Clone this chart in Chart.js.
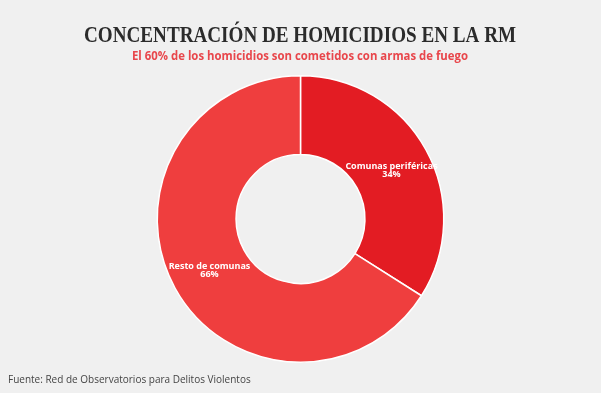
<!DOCTYPE html>
<html>
<head>
<meta charset="utf-8">
<script src="https://cdn.jsdelivr.net/npm/chart.js"></script>
<style>
  html, body { margin: 0; padding: 0; background: #f0f0f0; }
  #wrap { width: 601px; height: 393px; }
</style>
</head>
<body>
<div id="wrap"><canvas id="dona" width="601" height="393"></canvas></div>
<script>
// Datos
var labels = ["Comunas periféricas", "Resto de comunas"];
var data = [34, 66]; // porcentaje de homicidios
var colors = ['#e31c23', '#ef3e3e'];

var title = "CONCENTRACIÓN DE HOMICIDIOS EN LA RM";
var subtitle = "El 60% de los homicidios son cometidos con armas de fuego";
var fuente = "Fuente: Red de Observatorios para Delitos Violentos";

// textos de cabecera y pie
var textos = {
    id: 'textos',
    afterDraw: function(chart) {
        var c = chart.ctx;
        c.save();
        c.textAlign = 'center';
        c.textBaseline = 'alphabetic';
        c.fillStyle = '#2b2b2b';
        c.font = 'bold 23px "Liberation Serif"';
        c.fillText(title, 300, 42, 432); // ajustado al ancho del original
        c.fillStyle = '#e8464b';
        c.font = 'bold 12px "Open Sans"';
        c.fillText(subtitle, 300, 60, 336);
        c.textAlign = 'left';
        c.fillStyle = '#444';
        c.font = '10px "Open Sans"';
        c.fillText(fuente, 8, 383);
        c.restore();
    }
};

// etiquetas dentro de cada sector
var etiquetas = {
    id: 'etiquetas',
    afterDatasetsDraw: function(chart) {
        var c = chart.ctx;
        var meta = chart.getDatasetMeta(0);
        c.save();
        c.fillStyle = '#fff';
        c.textAlign = 'center';
        c.font = 'bold 9px "Open Sans"';
        meta.data.forEach(function(arc, i) {
            var p = arc.tooltipPosition();
            c.textBaseline = 'bottom';
            c.fillText(labels[i], p.x, p.y + 2);
            c.textBaseline = 'top';
            c.fillText(data[i] + '%', p.x, p.y + 1);
        });
        c.restore();
    }
};

var dona = new Chart(document.getElementById('dona').getContext('2d'), {
    type: 'doughnut',
    data: {
        labels: labels,
        datasets: [{
            data: data,
            backgroundColor: colors,
            borderColor: '#ffffff',
            borderWidth: 1.5
        }]
    },
    options: {
        responsive: false,
        animation: false,
        cutout: '45%',
        layout: { padding: { top: 75, bottom: 30 } },
        plugins: {
            legend: { display: false },
            tooltip: { enabled: false }
        }
    },
    plugins: [textos, etiquetas]
});
</script>
</body>
</html>
